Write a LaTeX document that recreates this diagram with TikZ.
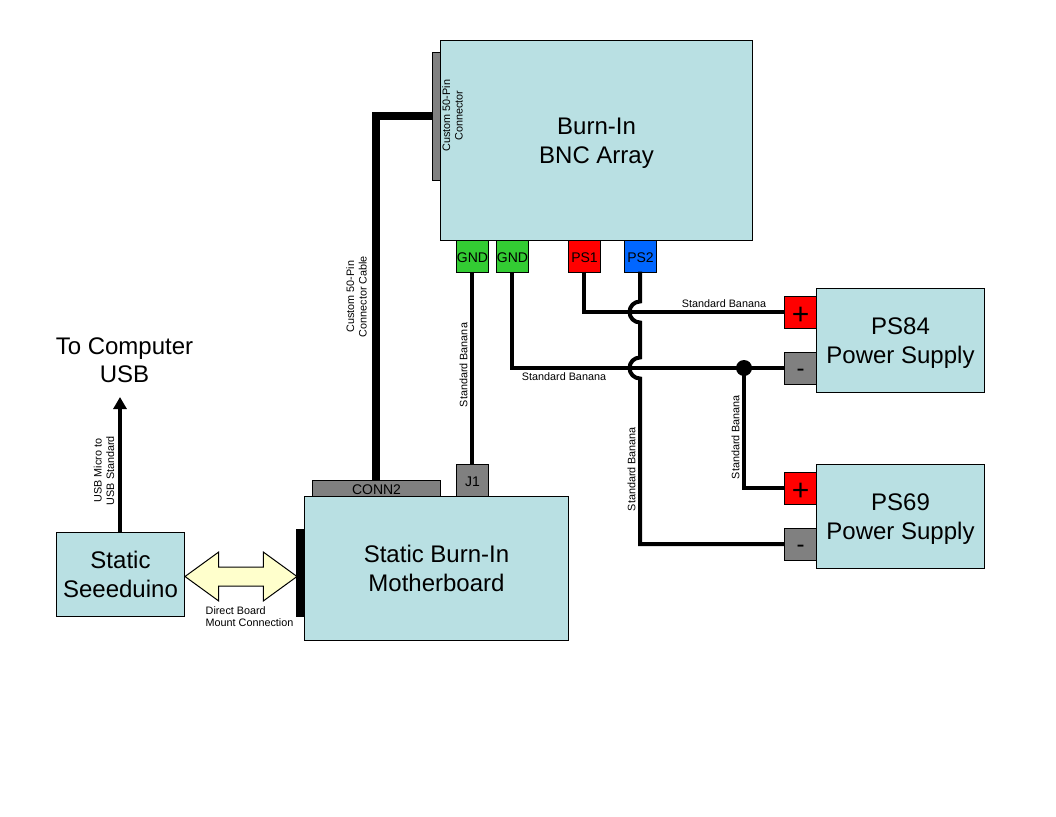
\documentclass[tikz,border=0pt]{standalone}
\usepackage{fontspec}
\setmainfont{Liberation Sans}
\usetikzlibrary{shapes.arrows,arrows.meta}

\definecolor{boxteal}{RGB}{185,224,227}
\definecolor{pingreen}{RGB}{51,204,51}
\definecolor{pinred}{RGB}{255,0,0}
\definecolor{pinblue}{RGB}{0,102,255}
\definecolor{pingray}{RGB}{128,128,128}
\definecolor{arrowyellow}{RGB}{255,255,204}

\newcommand{\pinsign}[2]{\raisebox{#1}[0pt][0pt]{#2}}

\tikzset{
    unitbox/.style={draw,fill=boxteal,line width=1pt,inner sep=0pt,align=center,text depth=0pt,font=\fontsize{24}{29}\selectfont},
    pinbox/.style={draw,line width=1pt,inner sep=0pt,minimum width=32,minimum height=32,text height=12pt,text depth=0pt,font=\fontsize{14}{16}\selectfont},
    wire/.style={line width=4pt,shorten <=-1pt,shorten >=-1pt,transform canvas={shift={(-0.5pt,0.5pt)}}},
    cablelabel/.style={inner sep=0pt,align=center,font=\fontsize{10.8}{12.5}\selectfont},
    biglabel/.style={inner sep=0pt,align=center,font=\fontsize{24}{28}\selectfont}
}

\begin{document}
\begin{tikzpicture}[x=1pt,y=-1pt]

        \useasboundingbox (-0.5,-0.5) rectangle (1055.5,815.5);

        % boxes
        \node[draw,fill=pingray,line width=1pt,minimum width=8,minimum height=128,inner sep=0pt] (bncconn) at (436,116) {};
        \node[unitbox,minimum width=312,minimum height=200] (bnc) at (596,140) {Burn-In\\BNC Array};

        \node[unitbox,minimum width=168,minimum height=104] (ps84) at (900,340) {PS84\\Power Supply};
        \node[unitbox,minimum width=168,minimum height=104] (ps69) at (900,516) {PS69\\Power Supply};

        \node[unitbox,minimum width=264,minimum height=144] (mobo) at (436,568) {Static Burn-In\\Motherboard};
        \node[unitbox,minimum width=128,minimum height=84] (seeed) at (120,574) {Static\\Seeeduino};

        % pins on the array
        \node[pinbox,fill=pingreen] (gnda) at (472,256) {GND};
        \node[pinbox,fill=pingreen] (gndb) at (512,256) {GND};
        \node[pinbox,fill=pinred] (psa) at (584,256) {PS1};
        \node[pinbox,fill=pinblue] (psb) at (640,256) {PS2};

        % pins on the supplies
        \node[pinbox,fill=pinred,text height=0pt,font=\fontsize{30}{30}\selectfont] (plusa) at (800,312) {\pinsign{-12pt}{+}};
        \node[pinbox,fill=pingray,text height=0pt,font=\fontsize{24}{24}\selectfont] (minusa) at (800,368) {\pinsign{-8pt}{-}};
        \node[pinbox,fill=pinred,text height=0pt,font=\fontsize{30}{30}\selectfont] (plusb) at (800,488) {\pinsign{-12pt}{+}};
        \node[pinbox,fill=pingray,text height=0pt,font=\fontsize{24}{24}\selectfont] (minusb) at (800,544) {\pinsign{-8pt}{-}};

        % connectors on the motherboard
        \node[pinbox,fill=pingray,minimum width=128,minimum height=16] (conn) at (376,488) {CONN2};
        \node[pinbox,fill=pingray] (jone) at (472,480) {J1};
        \node[fill=black,minimum width=8,minimum height=88,inner sep=0pt] (bar) at (299.5,572) {};

        % the board to board mount
        \node[draw,fill=arrowyellow,line width=1pt,double arrow,double arrow head extend=15,double arrow tip angle=72,
              minimum height=112,minimum width=48,inner xsep=0pt,inner ysep=9pt] (mount) at (240.5,576) {};

        \node[biglabel] (computer) at (124,360) {To Computer\\USB};

        \coordinate (usbtip) at (120,397);
        \coordinate (hopa) at (640,312);
        \coordinate (hopb) at (640,368);
        \node[circle,fill=black,minimum size=16,inner sep=0pt] (joint) at (743.5,367.5) {};

        % cables
        \draw [wire,line width=8pt] (conn.north) |- (bncconn.west);
        \draw [wire] (gnda) -- (jone);
        \draw [wire] (psa.south) |- (plusa.west);
        \draw [wire] (gndb.south) |- (minusa.west);
        \draw [wire] (joint.center) |- (plusb.west);
        \draw [wire] (psb.south) -- ([yshift=10.5pt]hopa) arc[start angle=90,end angle=270,radius=10.5pt]
                -- ([yshift=10.5pt]hopb) arc[start angle=90,end angle=270,radius=10.5pt] |- (minusb.west);
        \draw [line width=4pt,-{Triangle[length=12pt,width=13pt]},transform canvas={shift={(-0.5pt,0.5pt)}}] (seeed.north) -- (usbtip);

        % cable labels
        \node[cablelabel] (lblusb) at (103.5,470) [rotate=90] {USB Micro to\\USB Standard};
        \node[cablelabel] (lblcable) at (356,296) [rotate=90] {Custom 50-Pin\\Connector Cable};
        \node[cablelabel] (lblconn) at (452,115) [rotate=90] {Custom 50-Pin\\Connector};
        \node[cablelabel] (lbla) at (463,364.5) [rotate=90] {Standard Banana};
        \node[cablelabel] (lblb) at (723.5,303.5) {Standard Banana};
        \node[cablelabel] (lblc) at (563.5,376.5) {Standard Banana};
        \node[cablelabel] (lbld) at (735,436.5) [rotate=90] {Standard Banana};
        \node[cablelabel] (lble) at (631,468.5) [rotate=90] {Standard Banana};
        \node[cablelabel,align=left,anchor=west] (lblmount) at (205,616) {Direct Board\\Mount Connection};

\end{tikzpicture}
\end{document}
